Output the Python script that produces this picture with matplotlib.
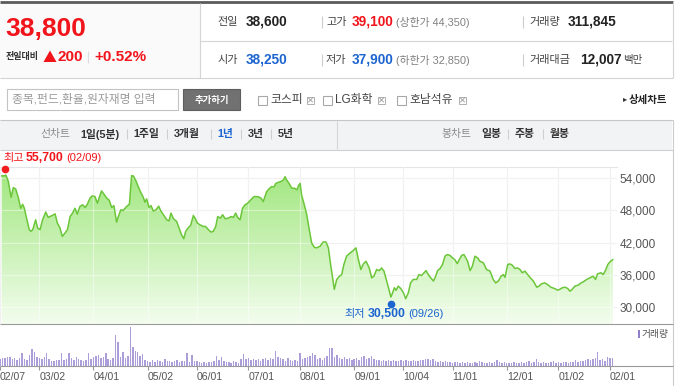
import numpy as np
import matplotlib.pyplot as plt
from matplotlib.patches import Rectangle, Polygon
from matplotlib.colors import LinearSegmentedColormap

plt.rcParams['font.family'] = ['Liberation Sans', 'Noto Sans CJK KR', 'DejaVu Sans']

W, H = 678, 386
RED = '#f2141b'
BLUE = '#1c64d0'

# 오늘 시세
CUR = 38800
CHANGE = 200
CHANGE_PCT = 0.52
PREV_CLOSE = 38600
OPEN = 38250
HIGH_TODAY = 39100
LOW_TODAY = 37900
UPPER_LIMIT = 44350
LOWER_LIMIT = 32850
VOLUME_TODAY = 311845
AMOUNT_TODAY = 12007

COMPARE = ['코스피', 'LG화학', '호남석유']
PERIOD_TABS = ['1일(5분)', '1주일', '3개월', '1년', '3년', '5년']
CANDLE_TABS = ['일봉', '주봉', '월봉']

TICK_DAYS = [0, 16, 38, 60, 80, 101, 122, 144, 164, 184, 206, 227, 248]
TICK_LABELS = ['02/07', '03/02', '04/01', '05/02', '06/01', '07/01', '08/01',
               '09/01', '10/04', '11/01', '12/01', '01/02', '02/01']
PRICE_TICKS = [30000, 36000, 42000, 48000, 54000]

HIGH_MARK = (2, 55700, '02/09')
LOW_MARK = (159, 30500, '09/26')

# 종가 (거래일 번호, 원)
day = [0.7, 2.0, 2.4, 3.4, 4.5, 5.4, 6.4, 7.5, 8.4, 9.2, 9.9, 10.8, 11.9, 12.6, 13.3,
       14.5, 15.3, 16.3, 17.3, 18.6, 19.6, 21.0, 22.4, 23.3, 24.4, 25.3, 26.4, 27.4,
       28.5, 29.5, 30.5, 31.4, 32.5, 33.6, 34.6, 35.5, 36.6, 37.4, 38.6, 39.6, 40.7,
       41.3, 42.3, 43.4, 44.4, 45.4, 46.3, 47.4, 48.1, 49.1, 50.1, 51.5, 52.6, 53.5,
       54.2, 55.1, 56.2, 57.2, 58.3, 58.9, 59.6, 60.6, 61.4, 62.3, 63.4, 64.5,
       65.4, 66.4, 67.8, 68.7, 69.5, 70.5, 71.8, 72.8, 73.8, 74.7, 75.5, 76.6, 77.5,
       78.6, 79.3, 80.2, 81.3, 82.7, 83.6, 84.7, 85.8, 86.7, 87.7, 88.5, 89.6, 90.5,
       91.5, 92.8, 93.9, 94.9, 95.8, 96.6, 97.6, 98.6, 99.6, 100.7, 101.6, 102.6,
       103.4, 105.0, 106.1, 107.0, 107.7, 108.4, 109.3, 110.4, 111.4, 112.1, 113.1,
       114.2, 115.2, 115.9, 116.5, 117.5, 118.6, 119.7, 120.7, 121.4, 122.0, 122.6,
       123.7, 124.7, 125.6, 126.7, 127.8,
       128.7, 130.1, 131.4, 132.5, 133.5, 134.4, 135.2, 135.9, 136.9, 138.0, 138.9,
       139.8, 140.9, 142.3, 143.6, 144.7, 145.7, 146.7, 147.7, 148.8, 150.1, 151.1,
       152.0, 153.1, 154.2, 155.1, 156.1, 157.2, 158.1, 158.9, 159.6, 160.3, 161.0,
       161.9, 162.9, 164.0, 164.9, 166.0, 166.9, 168.0, 169.4, 170.3, 171.4, 172.4,
       173.2, 174.1, 175.1, 176.2, 177.1, 177.9, 178.9, 179.9, 180.9, 181.8, 182.9,
       184.0, 184.9, 185.9, 186.7, 187.7, 188.6,
       190.1, 191.1, 192.0, 193.1, 194.2, 195.1, 196.5, 197.8, 199.2, 200.5, 201.5,
       202.6, 203.7, 204.6, 205.3, 206.4, 207.3, 208.3, 209.3, 210.4, 211.4, 212.3,
       213.4, 214.5, 215.6, 216.8, 218.2, 219.1, 220.2, 221.5, 222.6, 223.9, 225.4,
       226.7, 227.6, 228.6, 229.7, 230.8, 231.7, 232.6, 233.7, 235.1, 236.2, 237.1,
       238.5, 239.8, 241.1, 242.1, 242.9, 244.3, 245.2, 246.1, 247.1, 248.2, 249.1]
close = [54450, 54500, 54600, 53400, 50450, 52250, 52000, 50300, 48400, 49150, 48400,
         46550, 44400, 44100, 44400, 46250, 44700, 44400, 46250, 47700, 46700, 47000,
         47350, 45650, 44700, 43150, 43750, 44400, 46850, 47500, 48400, 47300, 48750,
         49050, 48550, 49150, 50300, 50700, 50600, 49350, 50900, 51650, 51000, 50300,
         49900, 48550, 48900, 45800, 46850, 48100, 48000, 48750, 49150, 54500, 54450,
         53700, 52450, 51400, 50400, 49550, 50150, 48550, 48900, 47900, 48100, 48800,
         47900, 47200, 46250, 46050, 47500, 46450, 45950, 44700, 43450, 42700, 44100,
         44800, 45200, 47050, 46550, 45650, 45300, 45000, 45000, 44400, 43950, 44100,
         45000, 46850, 46550, 47200, 46450, 46550, 46850, 46700, 47500, 46700, 46250,
         48400, 49050, 49350, 49800, 50300, 50600, 50550, 50300, 49650, 50600, 51500,
         52000, 52450, 52400, 53050, 53250, 53400, 53700, 54300, 53700, 53050, 52150,
         52150, 51850, 52650, 53050, 50900, 49050, 47200, 44700, 41900, 41100,
         41000, 41300, 42100, 42100, 41000, 37900, 35400, 33250, 35100, 35700, 36000,
         37900, 39450, 40050, 40500, 41000, 38800, 36950, 38000, 38500, 37250, 35400,
         35700, 36950, 36750, 37250, 36650, 34800, 33250, 31800, 32600, 33550, 33050,
         33850, 33400, 32600, 31500, 32600, 34450, 35100, 35100, 36000, 35850, 36350,
         36750, 36000, 35400, 34800, 35700, 36750, 37150, 37900, 39450, 39750, 39600,
         39100, 38800, 38050, 38800, 39600, 39750,
         38500, 36750, 37550, 39450, 39100, 38500, 38200, 36950, 36650, 35100, 34450,
         34800, 35700, 36000, 35500, 37900, 38000, 37750, 37150, 37250, 36950, 36350,
         36650, 36000, 35400, 34800, 33650, 33850, 34300, 34450, 34150, 33650, 33400,
         33100, 33250, 33550, 33650, 33400, 32900, 33250, 33850, 34050, 34450, 34650,
         35100, 35400, 35700, 35100, 36150, 36350, 36000, 36750, 37900, 38500, 38800]

# 일별 거래량 (천주)
volume = [280, 320, 320, 360, 360, 280, 320, 240, 320, 520,
          280, 240, 440, 680, 560, 360, 320, 280, 360, 510,
          280, 200, 200, 240, 240, 510, 240, 280, 520, 320,
          240, 360, 280, 240, 200, 240, 510, 280, 360, 400,
          440, 320, 360, 510, 280, 240, 320, 1240, 960, 360,
          560, 320, 400, 1550, 760, 600, 560, 400, 480, 240,
          200, 160, 240, 160, 240, 200, 160, 280, 200, 200,
          160, 200, 240, 160, 200, 200, 510, 160, 440, 200,
          200, 160, 120, 160, 120, 160, 160, 200, 400, 240,
          360, 200, 160, 160, 120, 200, 160, 120, 280, 470,
          280, 320, 240, 280, 240, 280, 200, 280, 320, 240,
          320, 280, 600, 360, 320, 280, 200, 320, 240, 200,
          240, 200, 520, 280, 320, 360, 400, 510, 440, 280,
          320, 240, 320, 400, 710, 710, 360, 440, 320, 280,
          360, 280, 320, 240, 280, 320, 240, 360, 400, 280,
          320, 400, 280, 240, 240, 200, 240, 200, 240, 200,
          240, 200, 200, 240, 200, 240, 200, 200, 240, 200,
          200, 240, 240, 280, 280, 240, 280, 200, 160, 200,
          160, 200, 160, 160, 120, 160, 160, 120, 160, 120,
          160, 120, 120, 160, 120, 200, 160, 120, 120, 160,
          120, 160, 240, 160, 120, 160, 120, 120, 120, 160,
          120, 120, 160, 120, 160, 200, 120, 160, 280, 160,
          120, 160, 120, 120, 160, 200, 120, 160, 120, 160,
          160, 120, 160, 160, 240, 160, 200, 200, 240, 280,
          240, 280, 320, 550, 240, 280, 200, 360, 320, 312]

XMAX = 250.7
PMIN, PMAX = 26770, 56170

fig = plt.figure(figsize=(W / 100, H / 100), dpi=100)
bg = fig.add_axes([0, 0, 1, 1])
bg.set_xlim(0, W)
bg.set_ylim(H, 0)
bg.axis('off')
bg.set_zorder(10)


def px_axes(x0, y0, x1, y1):
    return fig.add_axes([x0 / W, 1 - y1 / H, (x1 - x0) / W, (y1 - y0) / H])


def txt(x, y, s, size=8, color='#333333', weight='normal', ha='left'):
    bg.text(x, y, s, fontsize=size, color=color, fontweight=weight, ha=ha, va='center')


def hline(y, x0, x1, color='#d4d4d4', lw=0.8):
    bg.plot([x0, x1], [y, y], color=color, lw=lw, solid_capstyle='butt')


def vline(x, y0, y1, color='#d4d4d4', lw=0.8):
    bg.plot([x, x], [y0, y1], color=color, lw=lw, solid_capstyle='butt')


# ---- 상단 시세 박스
bg.add_patch(Rectangle((0, 2), 200, 76, facecolor='#fafafa', edgecolor='none'))
hline(1.5, 0, 673, color='#5b5b5b', lw=2.0)
hline(78, 0, 673)
vline(672.5, 2, 78)
vline(200, 3, 78)
hline(41, 200, 672)

txt(5, 29, f'{CUR:,}', size=19, color=RED, weight='bold')
txt(6, 57, '전일대비', size=6.5, color='#333333', weight='bold')
bg.add_patch(Polygon([(43.5, 62), (56.5, 62), (50, 50.5)], closed=True,
                     facecolor=RED, edgecolor='none'))
txt(57, 57, f'{CHANGE}', size=11, color=RED, weight='bold')
vline(88, 51, 63, color='#dddddd')
txt(94, 57, f'+{CHANGE_PCT:.2f}%', size=11, color=RED, weight='bold')

for y, items in [(22, [('전일', PREV_CLOSE, '#222222', None, 217, 246),
                       ('고가', HIGH_TODAY, RED, f'(상한가 {UPPER_LIMIT:,})', 326, 352)]),
                 (60, [('시가', OPEN, BLUE, None, 217, 246),
                       ('저가', LOW_TODAY, BLUE, f'(하한가 {LOWER_LIMIT:,})', 326, 352)])]:
    for lab, val, col, extra, xl, xv in items:
        txt(xl, y, lab, size=8, color='#444444')
        txt(xv, y, f'{val:,}', size=9.8, color=col, weight='bold')
        if extra:
            txt(396, y, extra, size=7.8, color='#808080')
    vline(322, y - 6, y + 6, color='#cccccc')
    vline(523, y - 6, y + 6, color='#cccccc')

txt(529, 22, '거래량', size=8, color='#444444')
txt(568, 22, f'{VOLUME_TODAY:,}', size=9.8, color='#222222', weight='bold')
txt(529, 60, '거래대금', size=8, color='#444444')
txt(580, 60, f'{AMOUNT_TODAY:,}', size=9.8, color='#222222', weight='bold')
txt(623, 60, '백만', size=7.5, color='#444444')

# ---- 종목 비교 입력줄
bg.add_patch(Rectangle((7, 89), 171, 21, facecolor='white', edgecolor='#c4c4c4', lw=0.8))
txt(12, 100, '종목,펀드,환율,원자재명 입력', size=8.5, color='#9a9a9a')
bg.add_patch(Rectangle((183, 89), 57, 21, facecolor='#717171', edgecolor='#5e5e5e', lw=0.8))
txt(211.5, 100, '추가하기', size=6.8, color='white', weight='bold', ha='center')

for (bx, lx, xx), name in zip([(258, 270, 307), (323, 335, 378), (397, 409, 459)], COMPARE):
    bg.add_patch(Rectangle((bx, 95.5), 9, 9, facecolor='white', edgecolor='#a8a8a8', lw=0.8))
    txt(lx, 100, name, size=8.5, color='#444444')
    bg.add_patch(Rectangle((xx, 96.5), 7, 7, facecolor='white', edgecolor='#b0b0b0', lw=0.7))
    bg.plot([xx + 1.5, xx + 5.5], [98, 102], color='#999999', lw=0.6)
    bg.plot([xx + 1.5, xx + 5.5], [102, 98], color='#999999', lw=0.6)

txt(623, 100, '▸', size=6, color='#333333')
txt(629, 100, '상세차트', size=7.5, color='#222222', weight='bold')

# ---- 기간 탭
bg.add_patch(Rectangle((0, 120), 672, 29.5, facecolor='#f2f3f5', edgecolor='none'))
hline(120, 0, 673, color='#c6c6c6')
hline(149.5, 0, 673, color='#d0d0d0')
vline(337, 121, 149, color='#d6d6d6')
vline(672.5, 120, 386, color='#cccccc')

txt(40, 134, '선차트', size=7.8, color='#8a8a8a')
for name, x in zip(PERIOD_TABS, [80, 133, 174, 217, 248, 278]):
    txt(x, 134, name, size=7.8, color=BLUE if name == '1년' else '#333333', weight='bold')
for x in [127, 167, 211, 241, 271]:
    vline(x, 129, 139, color='#cfcfcf')
txt(441, 134, '봉차트', size=7.8, color='#8a8a8a')
for name, x in zip(CANDLE_TABS, [481, 515, 550]):
    txt(x, 134, name, size=7.8, color='#333333', weight='bold')
for x in [508, 543]:
    vline(x, 129, 139, color='#cfcfcf')

# ---- 가격 차트
ax = px_axes(0, 166.7, 616.7, 324)
ax.set_xlim(0, XMAX)
ax.set_ylim(PMIN, PMAX)
for s in ['left', 'right', 'bottom']:
    ax.spines[s].set_visible(False)
ax.spines['top'].set_color('#e4e4e4')
ax.spines['top'].set_linewidth(0.8)

for d in TICK_DAYS:
    ax.axvline(d, color='#e6e6e6', lw=0.8, zorder=0.5)
    ax.axvline(d, color='white', alpha=0.45, lw=0.8, zorder=3)
for p in PRICE_TICKS:
    ax.axhline(p, color='#e6e6e6', lw=0.8, zorder=0.5)
    ax.axhline(p, color='white', alpha=0.45, lw=0.8, zorder=3)

verts = [(day[0], PMIN)] + list(zip(day, close)) + [(day[-1], PMIN)]
area = Polygon(verts, closed=True, facecolor='none', edgecolor='none')
ax.add_patch(area)
cmap = LinearSegmentedColormap.from_list('fill', ['#f3fdee', '#9fe67c'])
grad = ax.imshow(np.linspace(0, 1, 256).reshape(-1, 1), cmap=cmap, origin='lower',
                 extent=[0, XMAX, PMIN, PMAX], aspect='auto', zorder=2)
grad.set_clip_path(area)
ax.plot(day, close, color='#6cc63a', lw=1.1, zorder=4)

ax.plot(HIGH_MARK[0], HIGH_MARK[1], 'o', color='#f01e1e', ms=4.5, zorder=5, clip_on=False)
ax.plot(LOW_MARK[0], LOW_MARK[1], 'o', color=BLUE, ms=4.5, zorder=5, clip_on=False)

ax.set_xticks([])
ax.yaxis.tick_right()
ax.set_yticks(PRICE_TICKS, [f'{p:,}' for p in PRICE_TICKS])
ax.tick_params(axis='y', length=0, pad=2, labelsize=8.5, labelcolor='#555555')

txt(3, 158, '최고', size=8, color=RED)
txt(26, 158, f'{HIGH_MARK[1]:,}', size=8.8, color=RED, weight='bold')
txt(66, 158, f'({HIGH_MARK[2]})', size=8, color=RED)
txt(344, 314, '최저', size=8, color=BLUE)
txt(368, 314, f'{LOW_MARK[1]:,}', size=8.8, color=BLUE, weight='bold')
txt(408, 314, f'({LOW_MARK[2]})', size=8, color=BLUE)

# ---- 거래량
vax = px_axes(0, 324, 616.7, 366)
vax.bar(np.arange(len(volume)), volume, width=0.6, color='#ab9ed9', edgecolor='none')
vax.set_xlim(0, XMAX)
vax.set_ylim(0, 1682)
for s in vax.spines.values():
    s.set_visible(False)
vax.set_yticks([])
vax.set_xticks(TICK_DAYS, TICK_LABELS)
vax.tick_params(axis='x', length=3, width=0.8, color='#999999', pad=1.5,
                labelsize=7.6, labelcolor='#555555')
for lbl in vax.get_xticklabels():
    lbl.set_ha('left')

hline(324, 0, 673, color='#9a9a9a')
hline(366, 0, 673, color='#9a9a9a')
bg.add_patch(Rectangle((637.5, 330), 2, 8, facecolor='#8f80c9', edgecolor='none'))
txt(642, 334, '거래량', size=7, color='#555555')

fig.savefig('out.png', dpi=100)
